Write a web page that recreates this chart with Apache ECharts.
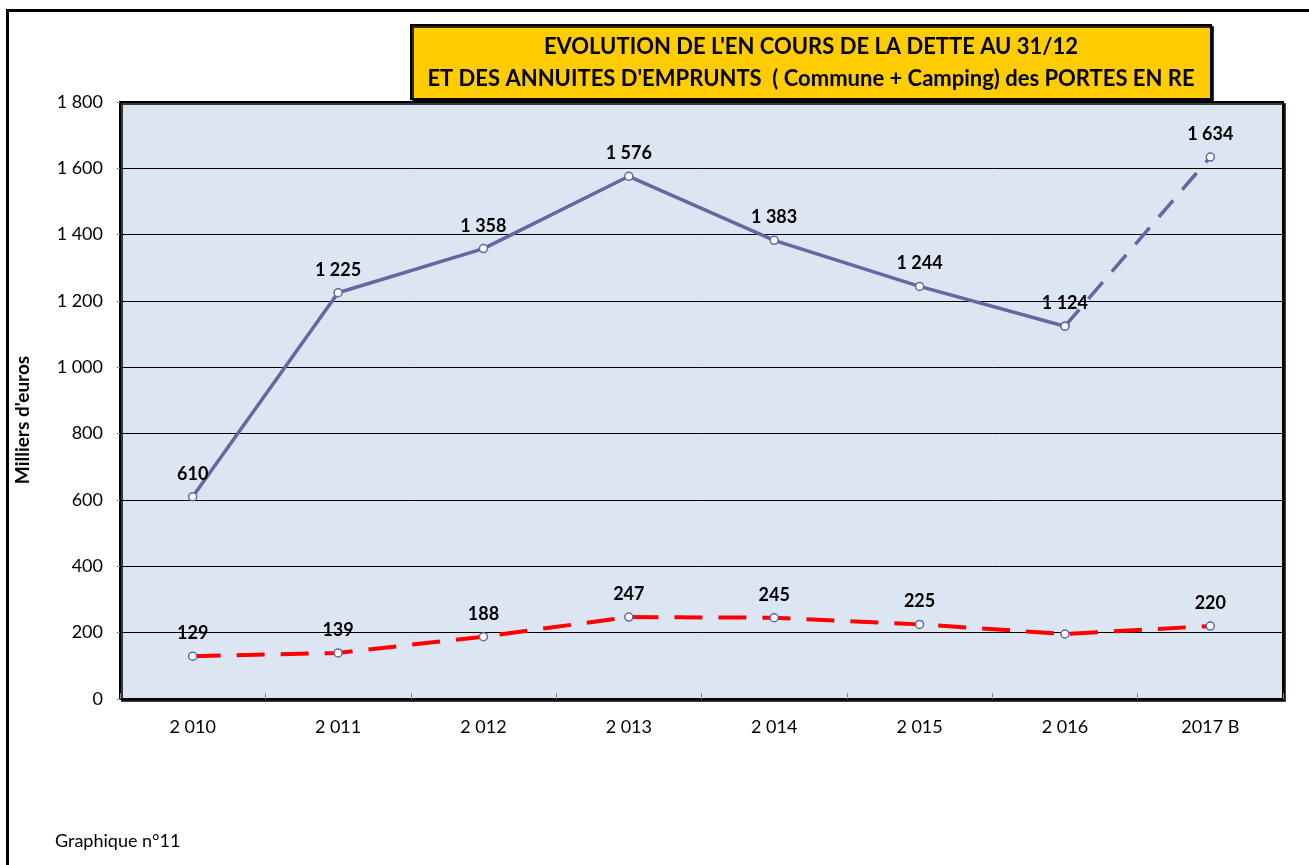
<!DOCTYPE html>
<html>
<head>
<meta charset="utf-8">
<title>Evolution de la dette</title>
<script src="https://cdn.jsdelivr.net/npm/echarts@6/dist/echarts.min.js"></script>
<style>
	html, body { margin: 0; padding: 0; background: #fff; }
	#chart { width: 1309px; height: 865px; }
</style>
</head>
<body>
<div id="chart"></div>
<script>
// années (2017 = budget)
const years = ["2 010", "2 011", "2 012", "2 013", "2 014", "2 015", "2 016", "2017 B"];
// en cours de la dette au 31/12 (milliers d'euros)
const debt = [610, 1225, 1358, 1576, 1383, 1244, 1124, 1634];
// annuités d'emprunts
const annuities = [129, 139, 188, 247, 245, 225, 196, 220];
const yTicks = [0, 200, 400, 600, 800, 1000, 1200, 1400, 1600, 1800];

const lastReal = 6; // 2016 : dernier exercice réalisé, ensuite trait pointillé
const FONT = "Lato, 'Open Sans', sans-serif";

function fmt(v) {
	return String(v).replace(/\B(?=(\d{3})+(?!\d))/g, " ");
}

const debtReal = debt.map((v, i) => (i <= lastReal ? v : null));
const debtBudget = debt.map((v, i) => (i >= lastReal ? v : null));

const labelStyle = {
	show: true,
	position: "top",
	distance: 9,
	color: "#000",
	fontWeight: "bold",
	fontSize: 18,
	fontFamily: FONT,
	formatter: (p) => fmt(p.value),
};
const marker = {
	color: "#fff",
	borderColor: "#6666A3",
	borderWidth: 1.5,
};

const chart = echarts.init(document.getElementById("chart"));
chart.setOption({
	animation: false,
	textStyle: { fontFamily: FONT },
	grid: {
		left: 120,
		right: 26,
		top: 102,
		bottom: 166,
		show: true,
		backgroundColor: "#DCE6F2",
		borderColor: "#000",
		borderWidth: 2,
		shadowColor: "rgba(0,0,0,0.75)",
		shadowBlur: 0,
		shadowOffsetX: 2,
		shadowOffsetY: 2,
	},
	xAxis: {
		type: "category",
		data: years,
		boundaryGap: true,
		axisLine: { lineStyle: { color: "#000", width: 2 } },
		axisTick: { show: true, inside: true, length: 6, lineStyle: { color: "#888" } },
		axisLabel: { color: "#000", fontSize: 18, margin: 19 },
	},
	yAxis: {
		type: "value",
		min: yTicks[0],
		max: yTicks[yTicks.length - 1],
		interval: 200,
		axisLine: { show: true, lineStyle: { color: "#000", width: 2 } },
		axisTick: { show: true, length: 3, lineStyle: { color: "#888" } },
		axisLabel: { color: "#000", fontSize: 18, margin: 17, formatter: (v) => fmt(v) },
		splitLine: { lineStyle: { color: "#000", width: 1 } },
	},
	series: [
		{
			name: "Dette",
			type: "line",
			data: debtReal,
			symbol: "circle",
			symbolSize: 8,
			lineStyle: { color: "#6666A3", width: 3.5 },
			itemStyle: marker,
			label: labelStyle,
			z: 3,
		},
		{
			name: "Dette budget",
			type: "line",
			data: debtBudget,
			symbol: "circle",
			symbolSize: 8,
			lineStyle: { color: "#6666A3", width: 3.5, type: [22, 14] },
			itemStyle: marker,
			label: Object.assign({}, labelStyle, {
				formatter: (p) => (p.dataIndex > lastReal ? fmt(p.value) : ""),
			}),
			z: 2,
		},
		{
			name: "Annuités",
			type: "line",
			data: annuities,
			symbol: "circle",
			symbolSize: 8,
			lineStyle: { color: "#FF0000", width: 4, type: [28, 16] },
			itemStyle: marker,
			label: Object.assign({}, labelStyle, {
				formatter: (p) => (p.dataIndex === lastReal ? "" : fmt(p.value)),
			}),
			z: 3,
		},
	],
	graphic: [
		// cadre extérieur (haut + gauche)
		{ type: "rect", shape: { x: 6, y: 9, width: 1303, height: 3 }, style: { fill: "#000" } },
		{ type: "rect", shape: { x: 6, y: 9, width: 3, height: 856 }, style: { fill: "#000" } },
		// titre
		{
			type: "rect",
			shape: { x: 411, y: 25, width: 800, height: 74 },
			style: {
				fill: "#FFCC00",
				stroke: "#000",
				lineWidth: 2,
				shadowColor: "rgba(0,0,0,0.8)",
				shadowOffsetX: 2,
				shadowOffsetY: 2,
			},
			z: 10,
		},
		{
			type: "text",
			x: 811,
			y: 36,
			style: {
				text: "EVOLUTION DE L'EN COURS DE LA DETTE AU 31/12",
				fill: "#000",
				font: "bold 22px " + FONT,
				textAlign: "center",
			},
			z: 11,
		},
		{
			type: "text",
			x: 811,
			y: 68,
			style: {
				text: "ET DES ANNUITES D'EMPRUNTS  ( Commune + Camping) des PORTES EN RE",
				fill: "#000",
				font: "bold 22px " + FONT,
				textAlign: "center",
			},
			z: 11,
		},
		// titre de l'axe vertical
		{
			type: "text",
			x: 13,
			y: 420,
			rotation: Math.PI / 2,
			style: {
				text: "Milliers d'euros",
				fill: "#000",
				font: "bold 19px " + FONT,
				textAlign: "center",
			},
		},
		{
			type: "text",
			x: 55,
			y: 832,
			style: { text: "Graphique n°11", fill: "#000", font: "18px " + FONT },
		},
	],
});
</script>
</body>
</html>
